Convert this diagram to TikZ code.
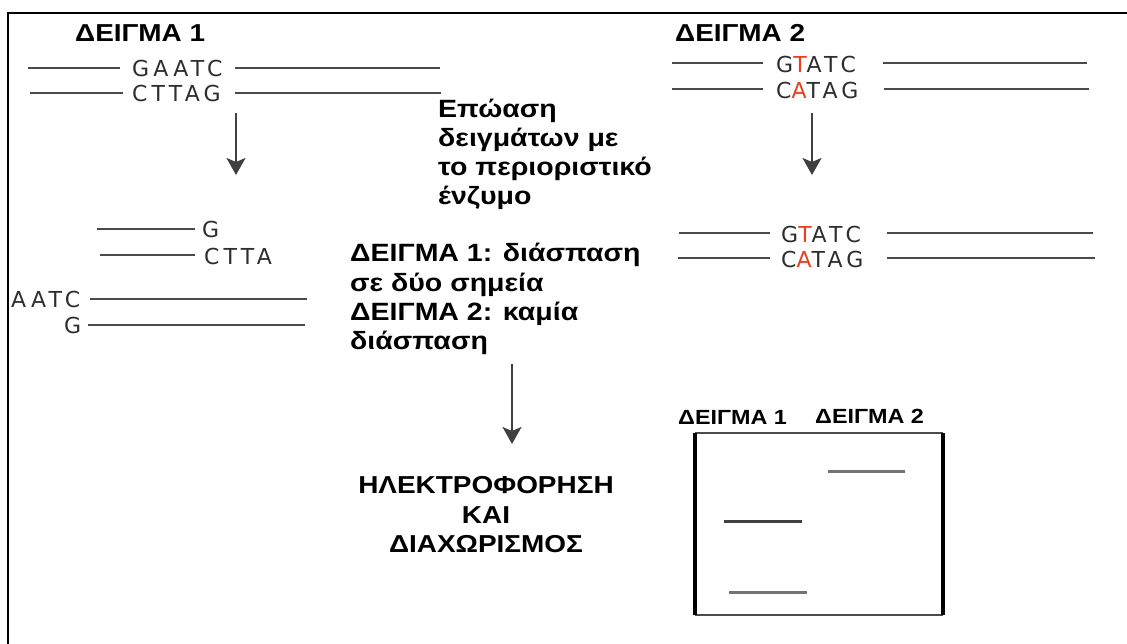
\documentclass[tikz,border=0pt]{standalone}
\usepackage{fontspec}
\setmainfont{Liberation Sans}[FakeStretch=1.14]
\newfontfamily\dnafont{DejaVu Sans}[LetterSpace=19]
\usetikzlibrary{arrows.meta}
\definecolor{dnagray}{HTML}{4A4A4A}
\definecolor{mutred}{HTML}{E8401C}
\definecolor{seqgray}{HTML}{2E2E2E}
\tikzset{
  strand/.style={draw=dnagray, line width=2.4pt},
  seq/.style={font=\dnafont\fontsize{22}{22}\selectfont, text=seqgray, inner sep=0pt, anchor=west},
  title/.style={font=\bfseries\fontsize{24.5}{25}\selectfont, inner sep=0pt, anchor=base west},
  small title/.style={font=\bfseries\fontsize{20.5}{21}\selectfont, inner sep=0pt, anchor=base west},
  body/.style={font=\bfseries\fontsize{25}{25}\selectfont, inner sep=0pt, anchor=base west},
  big/.style={font=\bfseries\fontsize{24.5}{25}\selectfont, inner sep=0pt, anchor=base},
  flow/.style={draw=black!75, line width=2.2pt, -{Stealth[length=17pt,width=19pt,inset=4pt]}},
  band/.style={draw=black!55, line width=3pt},
  frame/.style={draw=black, line width=2.4pt},
}
\begin{document}
\begin{tikzpicture}[x=1pt,y=-1pt]
\useasboundingbox (0,0) rectangle (1127,644);
% outer frame (top and left only)
\coordinate (fTR) at (1127,13);
\coordinate (fTL) at (8,13);
\coordinate (fBL) at (8,644);
\draw[frame] (fTR) -- (fTL) -- (fBL);

% ===== Sample 1 =====
\node[title] (t1) at (75,42) {ΔΕΙΓΜΑ 1};
\node[seq] (s1a) at (132,68) {GAATC};
\node[seq] (s1b) at (132,93) {CTTAG};
\coordinate (a1L) at (28,68);  \coordinate (a1l) at (120,68);
\coordinate (a1r) at (235,68); \coordinate (a1R) at (440,68);
\coordinate (b1L) at (30,93);  \coordinate (b1l) at (123,93);
\coordinate (b1r) at (235,93); \coordinate (b1R) at (441,93);
\draw[strand] (a1L) -- (a1l); \draw[strand] (a1r) -- (a1R);
\draw[strand] (b1L) -- (b1l); \draw[strand] (b1r) -- (b1R);
\coordinate (arr1s) at (236,113); \coordinate (arr1e) at (236,175);
\draw[flow] (arr1s) -- (arr1e);

% fragments of sample 1
\node[seq] (f1) at (202,229) {G};
\node[seq] (f2) at (204,256) {CTTA};
\node[seq] (f3) at (11,299) {AATC};
\node[seq] (f4) at (64,325) {G};
\coordinate (g1a) at (97,229);  \coordinate (g1b) at (195,229);
\coordinate (g2a) at (100,255); \coordinate (g2b) at (195,255);
\coordinate (g3a) at (90,299);  \coordinate (g3b) at (307,299);
\coordinate (g4a) at (88,325);  \coordinate (g4b) at (305,325);
\draw[strand] (g1a) -- (g1b); \draw[strand] (g2a) -- (g2b);
\draw[strand] (g3a) -- (g3b); \draw[strand] (g4a) -- (g4b);

% ===== Sample 2 =====
\node[title] (t2) at (675,42) {ΔΕΙΓΜΑ 2};
\node[seq] (s2a) at (776,64) {G\textcolor{mutred}{T}ATC};
\node[seq] (s2b) at (776,90) {C\textcolor{mutred}{A}TAG};
\coordinate (a2L) at (672,63);  \coordinate (a2l) at (763,63);
\coordinate (a2r) at (883,63);  \coordinate (a2R) at (1087,63);
\coordinate (b2L) at (672,89);  \coordinate (b2l) at (763,89);
\coordinate (b2r) at (884,89);  \coordinate (b2R) at (1089,89);
\draw[strand] (a2L) -- (a2l); \draw[strand] (a2r) -- (a2R);
\draw[strand] (b2L) -- (b2l); \draw[strand] (b2r) -- (b2R);
\coordinate (arr2s) at (812,113); \coordinate (arr2e) at (812,175);
\draw[flow] (arr2s) -- (arr2e);

\node[seq] (s2c) at (781,234) {G\textcolor{mutred}{T}ATC};
\node[seq] (s2d) at (781,259) {C\textcolor{mutred}{A}TAG};
\coordinate (c2L) at (679,233);  \coordinate (c2l) at (770,233);
\coordinate (c2r) at (887,233);  \coordinate (c2R) at (1093,233);
\coordinate (d2L) at (678,258);  \coordinate (d2l) at (770,258);
\coordinate (d2r) at (887,258);  \coordinate (d2R) at (1095,258);
\draw[strand] (c2L) -- (c2l); \draw[strand] (c2r) -- (c2R);
\draw[strand] (d2L) -- (d2l); \draw[strand] (d2r) -- (d2R);

% ===== middle texts =====
\node[body] (e1) at (438,118) {Επώαση};
\node[body] (e2) at (438,147) {δειγμάτων με};
\node[body] (e3) at (438,176) {το περιοριστικό};
\node[body] (e4) at (438,205) {ένζυμο};

\node[body] (r1) at (350,262) {ΔΕΙΓΜΑ 1: διάσπαση};
\node[body] (r2) at (350,291) {σε δύο σημεία};
\node[body] (r3) at (350,320) {ΔΕΙΓΜΑ 2: καμία};
\node[body] (r4) at (350,349) {διάσπαση};

\coordinate (arr3s) at (512,364); \coordinate (arr3e) at (512,444);
\draw[flow] (arr3s) -- (arr3e);

\node[big] (h1) at (486,493) {ΗΛΕΚΤΡΟΦΟΡΗΣΗ};
\node[big] (h2) at (486,523) {ΚΑΙ};
\node[big] (h3) at (486,552) {ΔΙΑΧΩΡΙΣΜΟΣ};

% ===== gel =====
\node[small title] (g1) at (678,424) {ΔΕΙΓΜΑ 1};
\node[small title] (g2) at (815,423) {ΔΕΙΓΜΑ 2};
\coordinate (gTL) at (695,433); \coordinate (gTR) at (943,433);
\coordinate (gBL) at (695,615); \coordinate (gBR) at (943,615);
\draw[draw=black!70, line width=2pt] (gTL) -- (gTR);
\draw[draw=black!70, line width=2pt] (gBL) -- (gBR);
\draw[draw=black, line width=3.2pt] (gTL) -- (gBL);
\draw[draw=black, line width=3.2pt] (gTR) -- (gBR);
\coordinate (bA1) at (828,471); \coordinate (bA2) at (905,471);
\coordinate (bB1) at (724,521); \coordinate (bB2) at (802,521);
\coordinate (bC1) at (729,592); \coordinate (bC2) at (807,592);
\draw[band] (bA1) -- (bA2);
\draw[band, draw=black!75] (bB1) -- (bB2);
\draw[band] (bC1) -- (bC2);
\end{tikzpicture}
\end{document}
